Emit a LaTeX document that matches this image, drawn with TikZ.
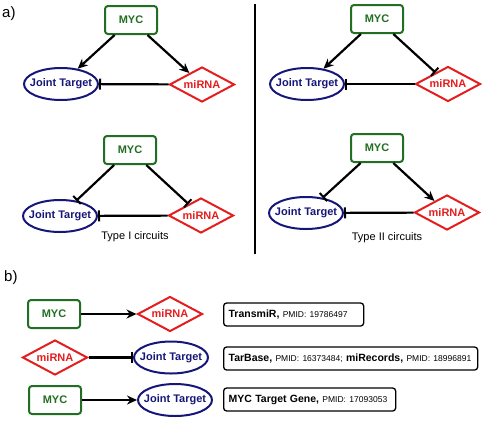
\documentclass[tikz,border=0pt]{standalone}
\usepackage{fontspec}
\setmainfont{Liberation Sans}
\usetikzlibrary{shapes.geometric,arrows.meta}
\definecolor{mycgreen}{RGB}{34,110,34}
\definecolor{jtblue}{RGB}{22,22,120}
\definecolor{mired}{RGB}{228,30,30}
\newcommand\nodefont{\fontsize{11}{13}\selectfont\bfseries}
\newcommand\reflab{\fontsize{10.5}{12}\selectfont\bfseries}
\newcommand\pmidtxt{\fontsize{8.5}{10}\selectfont}
\begin{document}
\begin{tikzpicture}[x=1pt,y=-1pt,
 myc/.style={draw=mycgreen, text=mycgreen, line width=2pt, rounded corners=3pt,
   minimum width=52pt, minimum height=28pt, inner sep=0pt, font=\nodefont},
 jt/.style={ellipse, draw=jtblue, text=jtblue, line width=2pt, minimum width=74pt,
   minimum height=32pt, inner xsep=-6pt, inner ysep=0pt, font=\nodefont},
 mir/.style={diamond, aspect=1.86, draw=mired, text=mired, line width=2pt,
   minimum width=65pt, minimum height=35pt, inner sep=0pt, font=\nodefont},
 act/.style={line width=2.2pt, -{Stealth[length=10pt,width=9pt]}},
 inh/.style={line width=2.2pt, -{Bar[width=11pt,line width=2pt]}},
 refbox/.style={draw, line width=1.3pt, rounded corners=3pt, minimum height=23pt,
   inner xsep=5pt, inner ysep=0pt, anchor=west, align=left},
 panel/.style={font=\fontsize{15}{17}\selectfont, anchor=west, inner sep=0pt},
 caption/.style={font=\fontsize{11}{13}\selectfont, inner sep=0pt}
]
\useasboundingbox (0,0) rectangle (484,421);

% panel labels
\node[panel] (la) at (2,14) {a)};
\node[panel] (lb) at (4,278) {b)};

% divider
\draw[line width=1.3pt] (255,4) -- (255,254);

% top-left circuit
\node[myc] (m1) at (131,20) {MYC};
\node[jt]  (j1) at (61,84) {Joint Target};
\node[mir] (r1) at (202,84.5) {miRNA};
\draw[act] (m1) -- (j1);
\draw[act] (m1) -- (r1);
\draw[inh] (r1) -- (j1);

% top-right circuit
\node[myc] (m2) at (377,19) {MYC};
\node[jt]  (j2) at (307,84) {Joint Target};
\node[mir] (r2) at (448,84) {miRNA};
\draw[act] (m2) -- (j2);
\draw[inh] (m2) -- (r2);
\draw[inh] (r2) -- (j2);

% bottom-left circuit
\node[myc] (m3) at (130,150) {MYC};
\node[jt]  (j3) at (60,216) {Joint Target};
\node[mir] (r3) at (201,215.5) {miRNA};
\draw[inh] (m3) -- (j3);
\draw[inh] (m3) -- (r3);
\draw[inh] (r3) -- (j3);
\node[caption] (c1) at (135,237) {Type I circuits};

% bottom-right circuit
\node[myc] (m4) at (377,148) {MYC};
\node[jt]  (j4) at (306,213) {Joint Target};
\node[mir] (r4) at (447,212.5) {miRNA};
\draw[inh] (m4) -- (j4);
\draw[act] (m4) -- (r4);
\draw[inh] (r4) -- (j4);
\node[caption] (c2) at (387,238) {Type II circuits};

% panel b
\node[myc] (m5) at (54,314) {MYC};
\node[mir] (r5) at (170,314) {miRNA};
\draw[act] (m5) -- (r5);
\node[refbox, text width=130pt] (b1) at (223,314.5) {{\reflab TransmiR,} {\pmidtxt PMID: 19786497}};

\node[mir] (r6) at (55,357.5) {miRNA};
\node[jt]  (j6) at (171,357.5) {Joint Target};
\draw[inh] (r6) -- (j6);
\node[refbox, text width=244pt] (b2) at (223,358.5) {{\reflab TarBase,} {\pmidtxt PMID: 16373484;} {\reflab miRecords,} {\pmidtxt PMID: 18996891}};

\node[myc] (m7) at (55,400) {MYC};
\node[jt]  (j7) at (175,400) {Joint Target};
\draw[act] (m7) -- (j7);
\node[refbox, text width=162pt] (b3) at (223,399.5) {{\reflab MYC Target Gene,} {\pmidtxt PMID: 17093053}};
\end{tikzpicture}
\end{document}
